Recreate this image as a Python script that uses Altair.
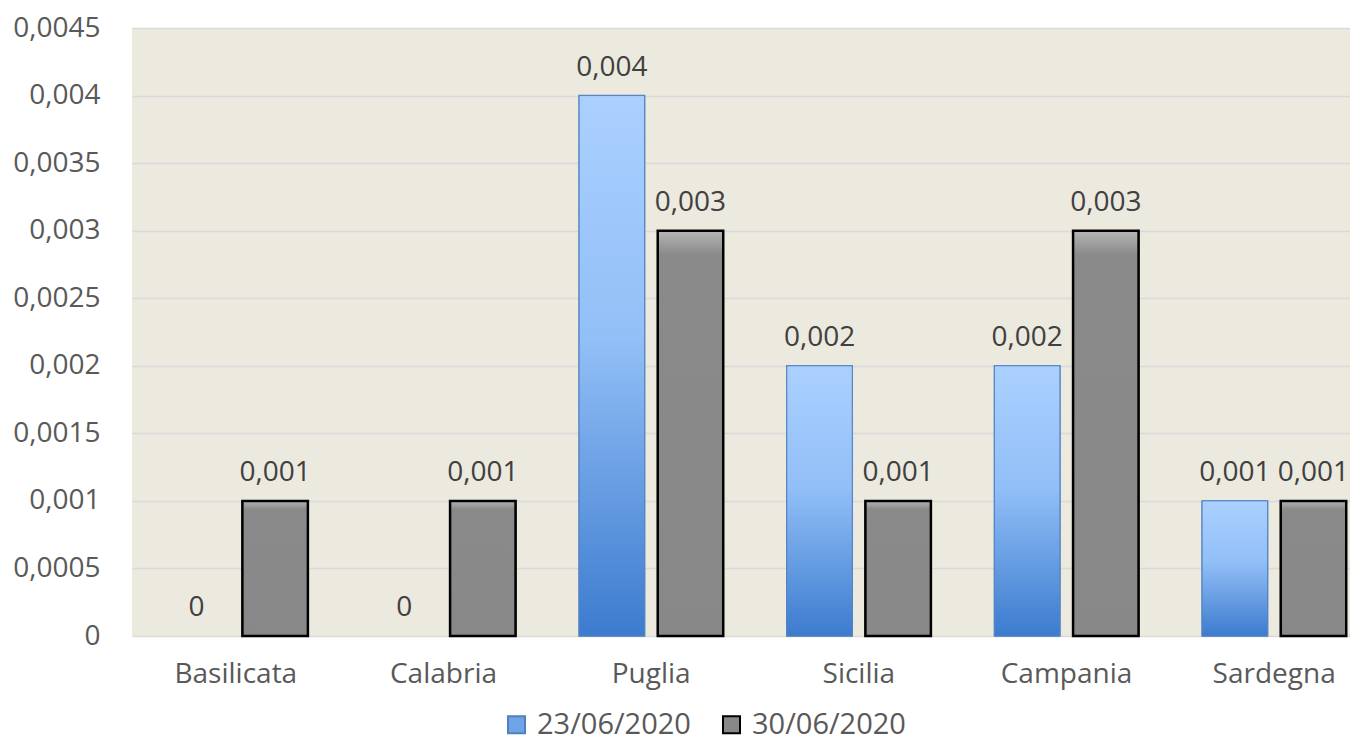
import altair as alt
import pandas as pd

regions = ["Basilicata", "Calabria", "Puglia", "Sicilia", "Campania", "Sardegna"]
series = ["23/06/2020", "30/06/2020"]
v_2306 = [0, 0, 0.004, 0.002, 0.002, 0.001]
v_3006 = [0.001, 0.001, 0.003, 0.001, 0.003, 0.001]
y_ticks = [0, 0.0005, 0.001, 0.0015, 0.002, 0.0025, 0.003, 0.0035, 0.004, 0.0045]

rows = []
for r, a, b in zip(regions, v_2306, v_3006):
    rows.append({"region": r, "series": series[0], "value": a})
    rows.append({"region": r, "series": series[1], "value": b})
df = pd.DataFrame(rows)

FONT = "Open Sans"
FS = 28
fmt = "replace(format(datum.value, '.4~f'), '.', ',')"

x_enc = alt.X("region:N", sort=regions, title=None,
              scale=alt.Scale(range=[0, 1246], paddingInner=0.306, paddingOuter=0.153),
              axis=alt.Axis(labelAngle=0, ticks=False, domain=False, labelPadding=24))
xo_enc = alt.XOffset("series:N", sort=series,
                     scale=alt.Scale(paddingInner=0.167, paddingOuter=0))
y_enc = alt.Y("value:Q", title=None,
              scale=alt.Scale(domain=[0, 0.0045], nice=False),
              axis=alt.Axis(values=y_ticks, labelExpr=fmt, ticks=False,
                            domain=False, labelPadding=32))

base = alt.Chart(df)

legend_bars = base.transform_filter(alt.datum.value > 0).mark_bar(strokeWidth=1.5).encode(
    x=x_enc, xOffset=xo_enc, y=y_enc,
    color=alt.Color("series:N", sort=series, title=None,
                    scale=alt.Scale(domain=series, range=["#6FA3E8", "#888888"]),
                    legend=alt.Legend(orient="none", direction="horizontal",
                                      legendX=370, legendY=682,
                                      symbolType="square", symbolSize=290,
                                      symbolStrokeWidth=2,
                                      labelFont=FONT, labelFontSize=29,
                                      labelColor="#595959", columnPadding=26,
                                      labelOffset=6)),
    stroke=alt.Stroke("series:N", sort=series,
                      scale=alt.Scale(domain=series, range=["#4F81BD", "#000000"]),
                      legend=None),
)

blue_grad = alt.Gradient(
    gradient="linear", x1=0, x2=0, y1=0, y2=1,
    stops=[alt.GradientStop(color="#AAD0FF", offset=0),
           alt.GradientStop(color="#92BFF7", offset=0.45),
           alt.GradientStop(color="#3C7BCE", offset=1)],
)
gray_grad = alt.Gradient(
    gradient="linear", x1=0, x2=0, y1=0, y2=1,
    stops=[alt.GradientStop(color="#B5B5B5", offset=0),
           alt.GradientStop(color="#8A8A8A", offset=0.06),
           alt.GradientStop(color="#888888", offset=1)],
)

blue_bars = base.transform_filter(
    (alt.datum.series == series[0]) & (alt.datum.value > 0)).mark_bar(
    color=blue_grad, stroke="#5585C4", strokeWidth=1).encode(
    x=x_enc, xOffset=xo_enc, y=y_enc)

gray_bars = base.transform_filter(alt.datum.series == series[1]).mark_bar(
    color=gray_grad, stroke="#000000", strokeWidth=2.5).encode(
    x=x_enc, xOffset=xo_enc, y=y_enc)

labels = base.mark_text(baseline="bottom", dy=-14, font=FONT, fontSize=FS,
                        color="#404040").encode(
    x=x_enc, xOffset=xo_enc, y=y_enc,
    text=alt.Text("label:N"),
).transform_calculate(label=fmt)

chart = alt.layer(legend_bars, blue_bars, gray_bars, labels).properties(
    width=1218, height=608,
    autosize=alt.AutoSizeParams(type="none"),
    padding={"left": 124, "top": 20, "right": 0, "bottom": 106},
).configure_view(fill="#ECE9DF", stroke=None).configure_axis(
    labelFont=FONT, labelFontSize=FS, labelColor="#595959",
    gridColor="#D9D9D9", gridWidth=1.5,
).configure_axisX(grid=False)

chart.save("out.html", embed_options={"renderer": "svg", "actions": False})
